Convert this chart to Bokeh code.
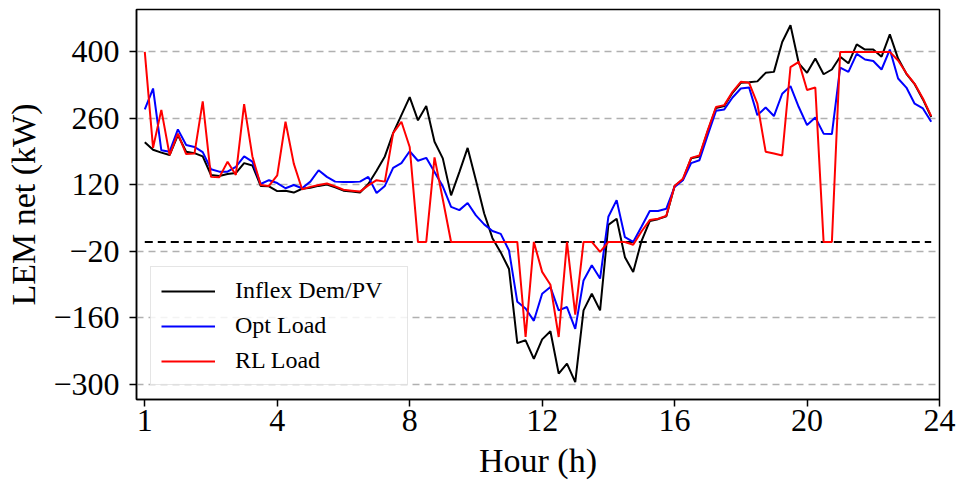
from bokeh.plotting import figure
from bokeh.models import Range1d, FixedTicker, Legend, LegendItem
from bokeh.embed import file_html
from bokeh.resources import INLINE

# 15-minute steps over the day (96 samples)
steps = list(range(96))

inflex = [210, 194, 188, 183, 225, 190, 187, 180, 141, 139, 143, 145, 166, 161, 118, 117,
          107, 108, 104, 112, 114, 118, 121, 115, 108, 106, 104, 122, 150, 180, 229, 267,
          305, 256, 286, 211, 176, 98, 147, 198, 130, 60, 8, -22, -57, -213, -207, -246,
          -205, -188, -277, -256, -295, -144, -109, -144, 36, 49, -32, -63, 2, 44, 48, 54,
          118, 131, 176, 180, 233, 282, 286, 314, 335, 336, 338, 356, 358, 421, 456, 376,
          356, 386, 353, 363, 390, 376, 416, 405, 405, 390, 437, 386, 354, 332, 300, 263]

opt_load = [279, 323, 193, 190, 237, 204, 200, 189, 153, 148, 148, 158, 180, 169, 122, 130,
            124, 113, 120, 113, 127, 151, 137, 127, 126, 126, 127, 137, 103, 118, 156, 166,
            191, 171, 177, 147, 117, 74, 67, 82, 56, 37, 23, 17, -18, -126, -140, -166,
            -109, -95, -144, -137, -183, -81, -49, -77, 53, 88, 10, 0, 32, 65, 65, 70,
            116, 130, 166, 172, 225, 276, 279, 304, 323, 325, 267, 283, 265, 312, 328, 284,
            246, 262, 228, 227, 367, 358, 396, 384, 381, 363, 405, 344, 325, 291, 281, 253]

rl_load = [400, 198, 278, 183, 228, 185, 186, 296, 137, 136, 169, 141, 290, 180, 120, 118,
           140, 253, 165, 111, 116, 120, 123, 117, 110, 108, 106, 119, 130, 127, 229, 253,
           200, 0, 0, 178, 90, 0, 0, 0, 0, 0, 0, 0, 0, 0, -200, 0,
           -63, -90, -200, 0, -153, 0, 0, -21, 0, 0, 0, -6, 22, 46, 49, 55,
           118, 133, 177, 182, 235, 284, 288, 316, 337, 335, 291, 190, 186, 182, 368, 379,
           320, 325, 0, 0, 400, 400, 400, 400, 400, 400, 400, 382, 355, 333, 302, 265]

zero_level = 0

x_tick_pos = [0, 16, 32, 48, 64, 80, 96]
x_tick_labels = ["1", "4", "8", "12", "16", "20", "24"]
y_ticks = [400, 260, 120, -20, -160, -300]
y_tick_labels = ["400", "260", "120", "\u221220", "\u2212160", "\u2212300"]

FONT = "Liberation Serif"

p = figure(width=959, height=489, output_backend="svg", toolbar_location=None,
           x_range=Range1d(-1, 96), y_range=Range1d(-331.6, 489.3),
           min_border_left=136, min_border_right=20, min_border_top=9, min_border_bottom=90)

p.outline_line_color = "black"
p.outline_line_width = 1.5
p.background_fill_color = "white"
p.border_fill_color = "white"

# grid
p.xgrid.visible = False
p.ygrid.grid_line_color = "#b0b0b0"
p.ygrid.grid_line_dash = "7 5"
p.ygrid.grid_line_width = 1.3

# axes
for ax in (p.xaxis[0], p.yaxis[0]):
    ax.axis_line_color = "black"
    ax.axis_line_width = 1.5
    ax.major_tick_line_color = "black"
    ax.major_tick_line_width = 1.5
    ax.major_tick_in = 0
    ax.major_tick_out = 7
    ax.minor_tick_line_color = None
    ax.major_label_text_font = FONT
    ax.major_label_text_font_size = "32px"
    ax.major_label_text_color = "black"
    ax.axis_label_text_font = FONT
    ax.axis_label_text_font_size = "34px"
    ax.axis_label_text_font_style = "normal"
    ax.axis_label_text_color = "black"

p.xaxis.ticker = FixedTicker(ticks=x_tick_pos)
p.xaxis.major_label_overrides = {t: l for t, l in zip(x_tick_pos, x_tick_labels)}
p.xaxis.axis_label = "Hour (h)"
p.xaxis.major_label_standoff = 3
p.xaxis.axis_label_standoff = 8

p.yaxis.ticker = FixedTicker(ticks=y_ticks)
p.yaxis.major_label_overrides = {t: l for t, l in zip(y_ticks, y_tick_labels)}
p.yaxis.axis_label = "LEM net (kW)"
p.yaxis.major_label_standoff = 10
p.yaxis.axis_label_standoff = 8

# zero reference line
p.line([steps[0], steps[-1]], [zero_level, zero_level], line_color="black",
       line_width=2, line_dash="8 5")

r1 = p.line(steps, inflex, line_color="black", line_width=2)
r2 = p.line(steps, opt_load, line_color="#0000ff", line_width=2)
r3 = p.line(steps, rl_load, line_color="#ff0000", line_width=2)

legend = Legend(items=[LegendItem(label="Inflex Dem/PV", renderers=[r1]),
                       LegendItem(label="Opt Load", renderers=[r2]),
                       LegendItem(label="RL Load", renderers=[r3])],
                location="bottom_left")
legend.label_text_font = FONT
legend.label_text_font_size = "24px"
legend.label_text_color = "black"
legend.glyph_width = 54
legend.glyph_height = 22
legend.label_standoff = 20
legend.label_width = 162
legend.spacing = 8
legend.padding = 10
legend.margin = 14
legend.border_line_color = "#cccccc"
legend.border_line_width = 1.2
legend.background_fill_color = "white"
legend.background_fill_alpha = 0.85
p.add_layout(legend)

open("out.html", "w").write(file_html(p, INLINE))
